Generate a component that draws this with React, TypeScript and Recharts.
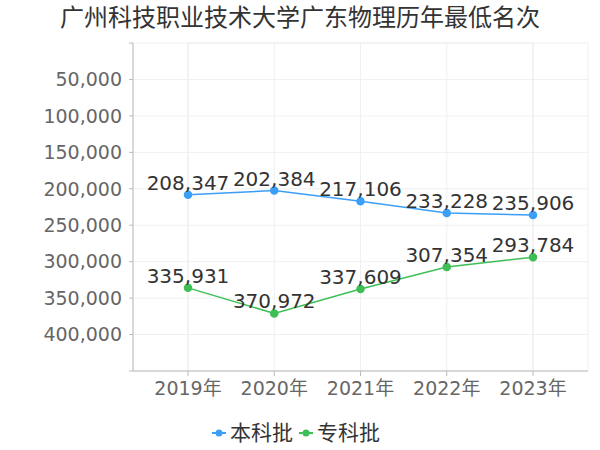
import React from 'react';
import { LineChart, Line, XAxis, YAxis, CartesianGrid, Legend, LabelList, ReferenceArea } from 'recharts';

// 年份
const years = ['2019年', '2020年', '2021年', '2022年', '2023年'];
// 本科批 最低名次
const benke = [208347, 202384, 217106, 233228, 235906];
// 专科批 最低名次
const zhuanke = [335931, 370972, 337609, 307354, 293784];
// y轴刻度
const yTicks = [0, 50000, 100000, 150000, 200000, 250000, 300000, 350000, 400000, 450000];
// 图例顺序
const seriesOrder = ['本科批', '专科批'];

const data = years.map((y, i) => ({ year: y, benke: benke[i], zhuanke: zhuanke[i] }));

const BLUE = '#3b9ff7';
const GREEN = '#3dbf55';
const FONT = '"DejaVu Sans", "Noto Sans CJK SC", sans-serif';

const fmt = (v: number) => v.toLocaleString('en-US');

const LegendContent = (props: any) => {
  const items = [...(props.payload || [])].sort(
    (a: any, b: any) => seriesOrder.indexOf(a.value) - seriesOrder.indexOf(b.value)
  );
  return (
    <div style={{ display: 'flex', justifyContent: 'center', alignItems: 'center', fontFamily: FONT, fontSize: 21, color: '#333', lineHeight: '24px', paddingLeft: 10 }}>
      {items.map((item: any) => (
        <div key={item.value} style={{ display: 'flex', alignItems: 'center', marginRight: 6 }}>
          <svg width={14} height={10} style={{ marginRight: 4 }}>
            <line x1={0} y1={5} x2={14} y2={5} stroke={item.color} strokeWidth={2} />
            <circle cx={7} cy={5} r={3.5} fill={item.color} />
          </svg>
          <span>{item.value}</span>
        </div>
      ))}
    </div>
  );
};

const App: React.FC = () => {
  return (
    <div style={{ position: 'absolute', left: 0, top: 0, width: 600, height: 450, background: '#fff', fontFamily: FONT }}>
      <div style={{ position: 'absolute', top: 3, left: 0, width: 600, textAlign: 'center', fontSize: 24, color: '#333', lineHeight: '30px' }}>
        广州科技职业技术大学广东物理历年最低名次
      </div>
      <LineChart width={600} height={450} data={data} margin={{ top: 43, right: 12, left: 0, bottom: 5 }}>
        <CartesianGrid stroke="#f0f0f0" />
        <ReferenceArea y1={0} y2={450000} fill="none" stroke="#eeeeee" ifOverflow="visible" />
        <XAxis
          dataKey="year"
          padding={{ left: 55, right: 55 }}
          height={50}
          tickSize={5}
          tickMargin={6}
          stroke="#bbb"
          tick={{ fill: '#666', fontSize: 19 }}
        />
        <YAxis
          reversed
          domain={[0, 450000]}
          ticks={yTicks}
          width={133}
          tickSize={4}
          tickMargin={7}
          stroke="#bbb"
          tickFormatter={(v: number) => (v === 0 || v === 450000 ? '' : fmt(v))}
          tick={{ fill: '#666', fontSize: 19 }}
        />
        <Legend verticalAlign="bottom" height={24} content={<LegendContent />} />
        <Line type="linear" dataKey="benke" name="本科批" stroke={BLUE} strokeWidth={1.5}
          dot={{ r: 3.5, fill: BLUE, stroke: BLUE }} isAnimationActive={false}>
          <LabelList dataKey="benke" position="top" offset={5} formatter={(v: any) => fmt(v)} fill="#333" fontSize={20} />
        </Line>
        <Line type="linear" dataKey="zhuanke" name="专科批" stroke={GREEN} strokeWidth={1.5}
          dot={{ r: 3.5, fill: GREEN, stroke: GREEN }} isAnimationActive={false}>
          <LabelList dataKey="zhuanke" position="top" offset={5} formatter={(v: any) => fmt(v)} fill="#333" fontSize={20} />
        </Line>
      </LineChart>
    </div>
  );
};

export default App;
